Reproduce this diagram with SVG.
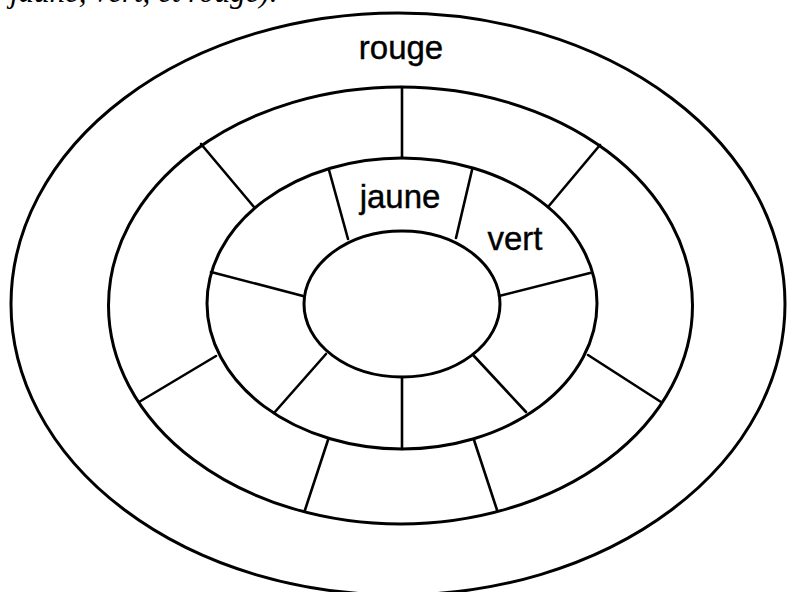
<svg xmlns="http://www.w3.org/2000/svg" width="788" height="592" viewBox="0 0 788 592">
<style>
.ring{fill:none;stroke:#000;stroke-width:3}
.div{stroke:#000;stroke-width:2.6;stroke-linecap:round}
.lbl{font-family:"Liberation Sans",Arial,sans-serif;font-size:33px;fill:#000;stroke:#000;stroke-width:0.4}
.cap{font-family:"Liberation Serif","Times New Roman",serif;font-style:italic;font-size:31px;fill:#000}
</style>
<rect width="788" height="592" fill="#fff"/>
<text class="cap" x="10" y="2">jaune, vert, et rouge).</text>
<g id="ring-outer"><ellipse class="ring" cx="398" cy="304" rx="387" ry="291"/></g>
<g id="ring-2"><ellipse class="ring" cx="400.5" cy="305.5" rx="292" ry="218.5"/></g>
<g id="ring-3"><ellipse class="ring" cx="402" cy="303.5" rx="195" ry="145.5"/></g>
<g id="ring-inner"><ellipse class="ring" cx="402" cy="304" rx="98" ry="73"/></g>
<g id="connectors">
<line class="div" x1="329" y1="170" x2="348" y2="239"/>
<line class="div" x1="472" y1="170" x2="456" y2="238"/>
<line class="div" x1="590" y1="273" x2="499" y2="296"/>
<line class="div" x1="526" y1="412" x2="474" y2="356"/>
<line class="div" x1="402" y1="377" x2="402" y2="449"/>
<line class="div" x1="326" y1="354" x2="274" y2="413"/>
<line class="div" x1="211" y1="272" x2="303" y2="296"/>
<line class="div" x1="402" y1="87" x2="402" y2="158"/>
<line class="div" x1="201" y1="144" x2="254" y2="207"/>
<line class="div" x1="600" y1="145" x2="548" y2="207"/>
<line class="div" x1="588" y1="355" x2="661" y2="402"/>
<line class="div" x1="216" y1="356" x2="139" y2="402"/>
<line class="div" x1="328" y1="440" x2="305" y2="510"/>
<line class="div" x1="474" y1="440" x2="497" y2="510"/>
</g>
<g id="label-rouge"><text class="lbl" x="401" y="59" text-anchor="middle">rouge</text></g>
<g id="label-jaune"><text class="lbl" x="400" y="208" text-anchor="middle">jaune</text></g>
<g id="label-vert"><text class="lbl" x="515" y="250" text-anchor="middle">vert</text></g>
</svg>
